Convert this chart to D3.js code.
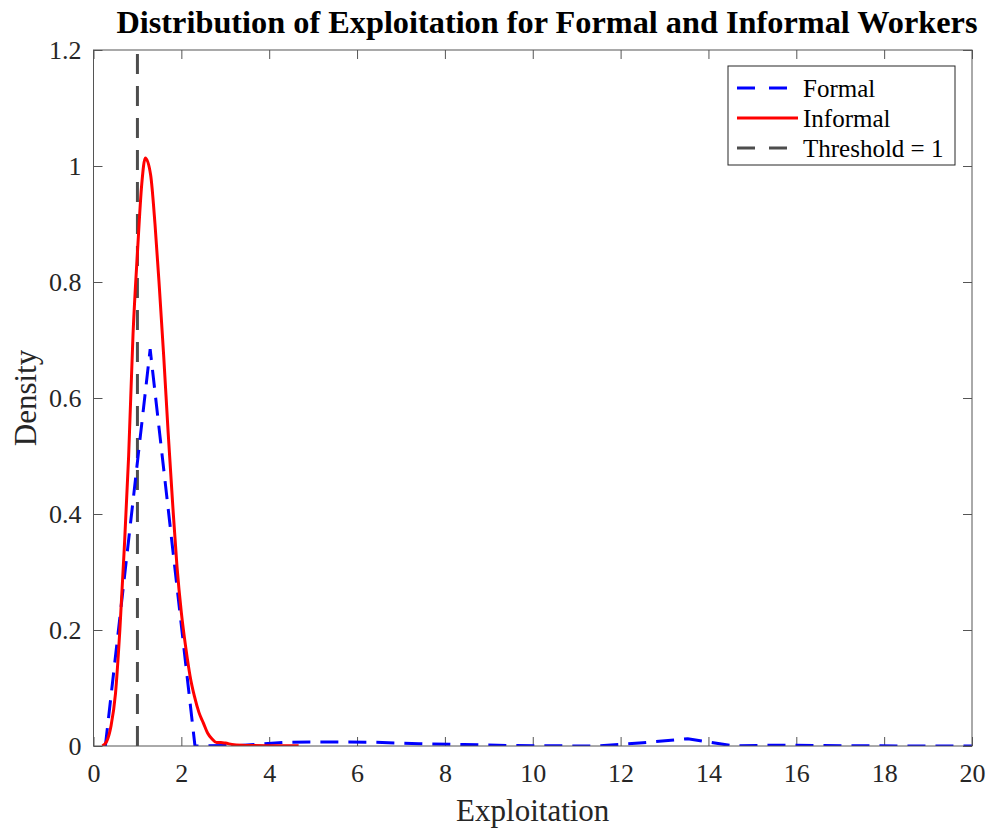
<!DOCTYPE html>
<html>
<head>
<meta charset="utf-8">
<script src="https://cdn.jsdelivr.net/npm/d3@7"></script>
<style>
  body { margin: 0; background: #fff; }
  text { font-family: "Liberation Serif", "Times New Roman", serif; }
</style>
</head>
<body>
<div id="chart"></div>
<script>
const formalX = [0.27, 1.29, 2.31, 3.33, 4.35, 5.37, 6.39, 7.41, 8.43, 9.45, 10.47,
  11.49, 12.51, 13.53, 14.55, 15.57, 16.59, 17.61, 18.63, 19.65, 20.67];
const formalY = [0, 0.684, 0, 0.001, 0.0065, 0.007, 0.0065, 0.004, 0.0025, 0.001, 0.0003,
  0, 0.0055, 0.0125, 0.0003, 0.0015, 0.0008, 0.0003, 0.0001, 0, 0];

const informalX = [0.2, 0.3, 0.4, 0.5, 0.6, 0.7, 0.8, 0.9, 1.0, 1.1, 1.18, 1.3, 1.4, 1.5,
  1.6, 1.7, 1.8, 1.9, 2.0, 2.1, 2.2, 2.3, 2.4, 2.5, 2.6, 2.7, 2.8, 2.9, 3.0, 3.2, 3.5, 4.0, 4.67];
const informalY = [0, 0.008, 0.035, 0.09, 0.2, 0.34, 0.5, 0.71, 0.85, 0.97, 1.014, 0.985, 0.9, 0.79,
  0.67, 0.54, 0.42, 0.31, 0.23, 0.17, 0.12, 0.085, 0.058, 0.04, 0.022, 0.012, 0.006, 0.006, 0.005, 0.002, 0.001, 0.0005, 0.0003];

const threshold = 1;
const xTicks = [0, 2, 4, 6, 8, 10, 12, 14, 16, 18, 20];
const yTicks = [0, 0.2, 0.4, 0.6, 0.8, 1, 1.2];
const legendLabels = ["Formal", "Informal", "Threshold = 1"];

const W = 993, H = 829;
const margin = {top: 50, right: 21, bottom: 83, left: 93.5};
const width = W - margin.left - margin.right,
      height = H - margin.top - margin.bottom;

const x = d3.scaleLinear().domain([0, 20]).range([margin.left, margin.left + width]);
const y = d3.scaleLinear().domain([0, 1.2]).range([margin.top + height, margin.top]);

const svg = d3.select("#chart").append("svg")
    .attr("width", W)
    .attr("height", H)
    .attr("viewBox", [0, 0, W, H]);

svg.append("defs").append("clipPath").attr("id", "clip")
  .append("rect")
    .attr("x", margin.left).attr("y", margin.top)
    .attr("width", width).attr("height", height);

const textColor = "#262626";
const lineColor = "#555";
const tickLen = 9;
const serif = "Liberation Serif";

// bottom axis
svg.append("g")
    .attr("transform", `translate(0,${margin.top + height})`)
    .call(d3.axisBottom(x).tickValues(xTicks).tickSizeInner(-tickLen).tickSizeOuter(0).tickPadding(18).tickFormat(d3.format("d")))
    .call(g => g.select(".domain").remove())
    .call(g => g.selectAll(".tick line").attr("stroke", lineColor))
    .call(g => g.selectAll("text").attr("font-size", 26).attr("fill", textColor)
      .style("font-family", serif));

// top ticks
svg.append("g")
    .attr("transform", `translate(0,${margin.top})`)
    .call(d3.axisTop(x).tickValues(xTicks).tickSizeInner(-tickLen).tickSizeOuter(0).tickFormat(""))
    .call(g => g.select(".domain").remove())
    .call(g => g.selectAll(".tick line").attr("stroke", lineColor));

// left axis
svg.append("g")
    .attr("transform", `translate(${margin.left},0)`)
    .call(d3.axisLeft(y).tickValues(yTicks).tickSizeInner(-tickLen).tickSizeOuter(0).tickPadding(12).tickFormat(d => d))
    .call(g => g.select(".domain").remove())
    .call(g => g.selectAll(".tick line").attr("stroke", lineColor))
    .call(g => g.selectAll("text").attr("font-size", 26).attr("fill", textColor)
      .style("font-family", serif));

// right ticks
svg.append("g")
    .attr("transform", `translate(${margin.left + width},0)`)
    .call(d3.axisRight(y).tickValues(yTicks).tickSizeInner(-tickLen).tickSizeOuter(0).tickFormat(""))
    .call(g => g.select(".domain").remove())
    .call(g => g.selectAll(".tick line").attr("stroke", lineColor));

// lines
const plot = svg.append("g").attr("clip-path", "url(#clip)");

const formal = formalX.map((v, i) => [v, formalY[i]]);
const informal = informalX.map((v, i) => [v, informalY[i]]);

plot.append("line")
    .attr("x1", x(threshold)).attr("x2", x(threshold))
    .attr("y1", y(0)).attr("y2", y(1.2))
    .attr("stroke", "#4d4d4d")
    .attr("stroke-width", 3)
    .attr("stroke-dasharray", "20,12");

plot.append("path")
    .datum(formal)
    .attr("fill", "none")
    .attr("stroke", "#0000ff")
    .attr("stroke-width", 3)
    .attr("stroke-dasharray", "18,10")
    .attr("d", d3.line().x(d => x(d[0])).y(d => y(d[1])));

plot.append("path")
    .datum(informal)
    .attr("fill", "none")
    .attr("stroke", "#ff0000")
    .attr("stroke-width", 3)
    .attr("stroke-linejoin", "round")
    .attr("d", d3.line().curve(d3.curveMonotoneX).x(d => x(d[0])).y(d => y(d[1])));

// box
svg.append("rect")
    .attr("x", margin.left).attr("y", margin.top)
    .attr("width", width).attr("height", height)
    .attr("fill", "none")
    .attr("stroke", lineColor)
    .attr("stroke-width", 1);

// title and labels
svg.append("text")
    .attr("x", 547)
    .attr("y", 33)
    .attr("text-anchor", "middle")
    .attr("font-size", 32.3)
    .attr("font-weight", "bold")
    .text("Distribution of Exploitation for Formal and Informal Workers");

svg.append("text")
    .attr("x", margin.left + width / 2)
    .attr("y", 821)
    .attr("text-anchor", "middle")
    .attr("font-size", 31)
    .attr("fill", textColor)
    .text("Exploitation");

svg.append("text")
    .attr("transform", `translate(36,${margin.top + height / 2}) rotate(-90)`)
    .attr("text-anchor", "middle")
    .attr("font-size", 31)
    .attr("fill", textColor)
    .text("Density");

// legend
const lg = svg.append("g").attr("transform", "translate(728,66)");
lg.append("rect")
    .attr("width", 227).attr("height", 99)
    .attr("fill", "#fff")
    .attr("stroke", textColor)
    .attr("stroke-width", 1);

const legendStyles = [
  {color: "#0000ff", dash: "18,14"},
  {color: "#ff0000", dash: null},
  {color: "#4d4d4d", dash: "18,14"}
];

legendLabels.forEach((label, i) => {
  const cy = 22 + i * 30;
  lg.append("line")
      .attr("x1", 9).attr("x2", legendStyles[i].dash ? 63 : 70)
      .attr("y1", cy).attr("y2", cy)
      .attr("stroke", legendStyles[i].color)
      .attr("stroke-width", 3)
      .attr("stroke-dasharray", legendStyles[i].dash);
  lg.append("text")
      .attr("x", 75).attr("y", cy)
      .attr("dy", "0.35em")
      .attr("font-size", 25)
      .attr("fill", "#000")
      .text(label);
});
</script>
</body>
</html>
